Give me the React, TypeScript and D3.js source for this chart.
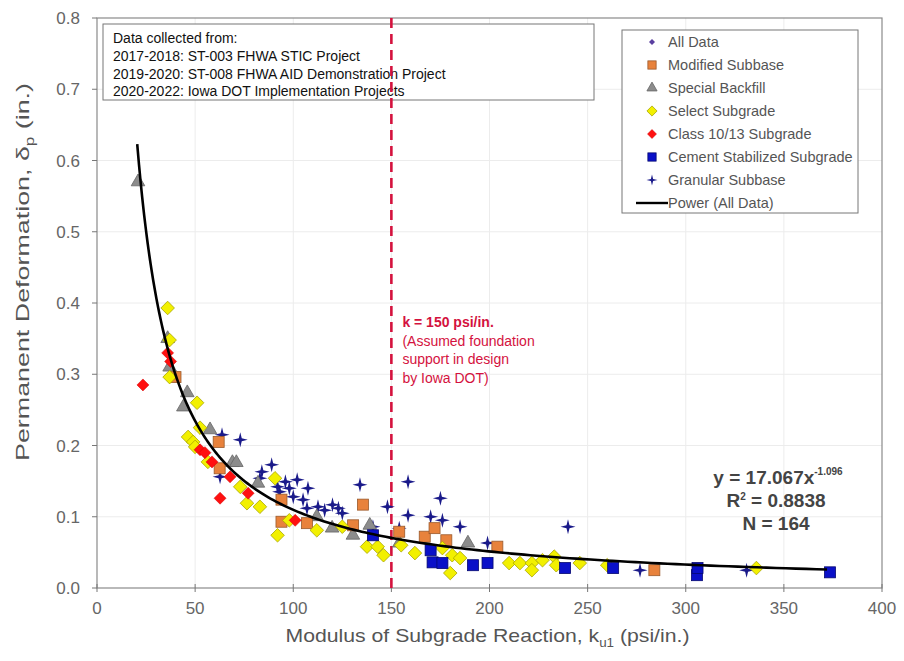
import React from 'react';
import * as d3 from 'd3';

// values: [k (psi/in.), deformation (in.)]
const specialBackfill: [number, number][] = [
  [20.9, 0.57], [36, 0.35], [37, 0.31], [44, 0.254], [46, 0.274], [57.6, 0.222],
  [69, 0.176], [71, 0.176], [82, 0.147], [112, 0.1], [119.8, 0.084], [130.4, 0.074],
  [139, 0.088], [154, 0.063], [189, 0.063],
];
const modifiedSubbase: [number, number][] = [
  [40, 0.296], [62, 0.205], [62.5, 0.168], [94, 0.124], [94, 0.093], [107, 0.091],
  [130.5, 0.088], [135.5, 0.117], [154, 0.079], [167, 0.072], [172, 0.084], [178, 0.067],
  [204, 0.058], [284, 0.025],
];
const selectSubgrade: [number, number][] = [
  [36, 0.393], [37, 0.348], [37, 0.296], [46.4, 0.212], [49, 0.205], [50, 0.198],
  [51, 0.26], [52.5, 0.225], [56.5, 0.177], [73, 0.142], [76.4, 0.119], [83, 0.114],
  [90.7, 0.154], [92, 0.074], [98, 0.095], [112, 0.081], [125, 0.086], [137.6, 0.058],
  [143, 0.058], [146, 0.046], [155, 0.06], [162, 0.049], [176, 0.056], [181, 0.046],
  [185, 0.042], [180, 0.021], [210, 0.035], [215.5, 0.035], [221.6, 0.035], [221.6, 0.025],
  [227, 0.039], [233, 0.044], [234, 0.032], [246, 0.035], [260, 0.032], [336, 0.028],
];
const class1013: [number, number][] = [
  [23.4, 0.285], [36, 0.33], [37.5, 0.318], [52.5, 0.194], [55, 0.19], [58.6, 0.177],
  [62.7, 0.126], [67.8, 0.156], [77, 0.133], [101, 0.095],
];
const cementStabilized: [number, number][] = [
  [140.6, 0.074], [170, 0.053], [171, 0.036], [176, 0.035], [191.6, 0.032], [199, 0.035],
  [238.5, 0.028], [263, 0.028], [305.7, 0.018], [306, 0.028], [373.5, 0.022],
];
const granularSubbase: [number, number][] = [
  [63.7, 0.215], [73, 0.208], [62.7, 0.156], [84, 0.163], [83, 0.154], [89, 0.173],
  [92, 0.142], [96, 0.149], [102, 0.152], [107.5, 0.14], [98, 0.14], [93, 0.135],
  [100, 0.128], [105, 0.124], [107, 0.112], [112.6, 0.114], [120, 0.117], [123, 0.112],
  [116, 0.109], [125, 0.105], [134, 0.145], [148, 0.114], [140.6, 0.086], [158.5, 0.149],
  [158.5, 0.102], [154, 0.084], [170, 0.1], [175, 0.126], [176, 0.095], [185, 0.086],
  [199, 0.063], [240, 0.086], [276.7, 0.025], [331, 0.025],
];

// power fit reported on the chart
const fitCoef = 17.067;
const fitExp = -1.096;
const fitRange: [number, number] = [20.5, 372];

const xTicks = [0, 50, 100, 150, 200, 250, 300, 350, 400];
const yTicks = [0, 0.1, 0.2, 0.3, 0.4, 0.5, 0.6, 0.7, 0.8];
const sourceLines = [
  'Data collected from:',
  '2017-2018: ST-003 FHWA STIC Project',
  '2019-2020: ST-008 FHWA AID Demonstration Project',
  '2020-2022: Iowa DOT Implementation Projects',
];
const kNote = ['(Assumed foundation', 'support in design', 'by Iowa DOT)'];
const legendLabels = [
  'All Data', 'Modified Subbase', 'Special Backfill', 'Select Subgrade',
  'Class 10/13 Subgrade', 'Cement Stabilized Subgrade', 'Granular Subbase', 'Power (All Data)',
];

const FONT = '"Liberation Sans", Arial, sans-serif';
const RED = '#d4123e';

const W = 904, H = 661;
const margin = { top: 18, right: 22, bottom: 73, left: 97 };

const x = d3.scaleLinear().domain([0, 400]).range([margin.left, W - margin.right]);
const y = d3.scaleLinear().domain([0, 0.8]).range([H - margin.bottom, margin.top]);

const starPath = (s: number) => {
  const a = s, b = s * 0.2;
  return `M0,${-a}L${b},${-b}L${a},0L${b},${b}L0,${a}L${-b},${b}L${-a},0L${-b},${-b}Z`;
};
const diamond = (s: number) => `M0,${-s}L${s},0L0,${s}L${-s},0Z`;

type Kind = 'all' | 'mod' | 'spec' | 'sel' | 'cls' | 'cem' | 'gran';

const Marker = ({ kind, cx, cy, legend }: { kind: Kind; cx: number; cy: number; legend?: boolean }) => {
  const t = `translate(${cx},${cy})`;
  const k = legend ? 0.75 : 1;
  switch (kind) {
    case 'all':
      return <path transform={t} d={diamond(3)} fill="#5a3fa0" />;
    case 'mod':
      return <rect x={cx - 5.5 * k} y={cy - 5.5 * k} width={11 * k} height={11 * k} fill="#e8823c" stroke="#9a5a2c" strokeWidth={0.8} />;
    case 'spec':
      return <path transform={t} d={d3.symbol(d3.symbolTriangle, 80 * k * k)()!} fill="#8c8c8c" stroke="#666" strokeWidth={0.8} />;
    case 'sel':
      return <path transform={t} d={diamond(6.8 * k)} fill="#f2f000" stroke="#a8a400" strokeWidth={0.8} />;
    case 'cls':
      return <path transform={t} d={diamond(6 * k)} fill="#ff1010" stroke="#d00000" strokeWidth={0.5} />;
    case 'cem':
      return <rect x={cx - 5.5 * k} y={cy - 5.5 * k} width={11 * k} height={11 * k} fill="#0a10c8" stroke="#050870" strokeWidth={0.8} />;
    case 'gran':
      return <path transform={t} d={starPath(legend ? 5.5 : 7.5)} fill="#1a1a8a" />;
  }
};

const seriesList: { kind: Kind; data: [number, number][] }[] = [
  { kind: 'gran', data: granularSubbase },
  { kind: 'spec', data: specialBackfill },
  { kind: 'mod', data: modifiedSubbase },
  { kind: 'sel', data: selectSubgrade },
  { kind: 'cls', data: class1013 },
  { kind: 'cem', data: cementStabilized },
];

const App = () => {
  const fitPts = d3.range(0, 201).map(i => {
    // log spacing so the steep start stays smooth
    const xv = fitRange[0] * Math.pow(fitRange[1] / fitRange[0], i / 200);
    return [xv, fitCoef * Math.pow(xv, fitExp)] as [number, number];
  });
  const line = d3.line<[number, number]>().x(d => x(d[0])).y(d => y(d[1]));

  const legendKinds: (Kind | 'line')[] = ['all', 'mod', 'spec', 'sel', 'cls', 'cem', 'gran', 'line'];
  const x0 = margin.left, x1 = W - margin.right, yb = H - margin.bottom, yt = margin.top;

  return (
    <>
      <style>{`body{margin:0}`}</style>
      <svg width={W} height={H} style={{ display: 'block', background: '#fff' }} fontFamily={FONT}>
        {/* grid */}
        {xTicks.slice(1, -1).map(t => (
          <line key={'gx' + t} x1={x(t)} x2={x(t)} y1={yt} y2={yb} stroke="#ececec" />
        ))}
        {yTicks.slice(1, -1).map(t => (
          <line key={'gy' + t} x1={x0} x2={x1} y1={y(t)} y2={y(t)} stroke="#ececec" />
        ))}

        {/* frame + ticks */}
        <rect x={x0} y={yt} width={x1 - x0} height={yb - yt} fill="none" stroke="#8a8a8a" strokeWidth={1.2} />
        {xTicks.map(t => (
          <line key={'tx' + t} x1={x(t)} x2={x(t)} y1={yb - 4} y2={yb + 4} stroke="#777" />
        ))}
        {yTicks.map(t => (
          <line key={'ty' + t} x1={x0 - 5} x2={x0} y1={y(t)} y2={y(t)} stroke="#777" />
        ))}
        {xTicks.map(t => (
          <text key={'lx' + t} x={x(t)} y={yb + 26} textAnchor="middle" fontSize={17} fill="#666">{t}</text>
        ))}
        {yTicks.map(t => (
          <text key={'ly' + t} x={x0 - 17} y={y(t) + 6} textAnchor="end" fontSize={17} fill="#666">{t.toFixed(1)}</text>
        ))}

        {/* axis titles */}
        <text x={(x0 + x1) / 2 - 2} y={H - 19} textAnchor="middle" fontSize={19} fill="#555"
          textLength={404} lengthAdjust="spacingAndGlyphs">
          Modulus of Subgrade Reaction, k<tspan fontSize={12} dy={5}>u1</tspan><tspan dy={-5}> (psi/in.)</tspan>
        </text>
        <text transform={`translate(29,272) rotate(-90)`} textAnchor="middle" fontSize={19} fill="#555"
          textLength={378} lengthAdjust="spacingAndGlyphs">
          Permanent Deformation, δ<tspan fontSize={12} dy={5}>p</tspan><tspan dy={-5}> (in.)</tspan>
        </text>

        {/* source box */}
        <rect x={103} y={24} width={491} height={76} fill="#fff" stroke="#777" />
        {sourceLines.map((s, i) => (
          <text key={s} x={113} y={43 + i * 17.8} fontSize={14} fill="#111">{s}</text>
        ))}

        {/* design k line */}
        <line x1={x(150)} x2={x(150)} y1={yt} y2={yb} stroke={RED} strokeWidth={2.6} strokeDasharray="10,6" />
        <text x={x(150) + 11} y={327} fontSize={14} fill={RED} fontWeight="bold">k = 150 psi/in.</text>
        {kNote.map((s, i) => (
          <text key={s} x={x(150) + 11} y={346 + i * 18.3} fontSize={14} fill={RED}>{s}</text>
        ))}

        {/* points */}
        {seriesList.map(s =>
          s.data.map((d, i) => <Marker key={s.kind + i} kind={s.kind} cx={x(d[0])} cy={y(d[1])} />)
        )}

        {/* fit */}
        <path d={line(fitPts)!} fill="none" stroke="#000" strokeWidth={2.6} />

        {/* fit annotation */}
        <text x={778} y={484} textAnchor="middle" fontSize={19} fill="#444" fontWeight="bold">
          y = 17.067x<tspan fontSize={10} dy={-9}>-1.096</tspan>
        </text>
        <text x={776} y={507} textAnchor="middle" fontSize={19} fill="#444" fontWeight="bold">
          R<tspan fontSize={10} dy={-7}>2</tspan><tspan dy={7}> = 0.8838</tspan>
        </text>
        <text x={776} y={530} textAnchor="middle" fontSize={19} fill="#444" fontWeight="bold">N = 164</text>

        {/* legend */}
        <rect x={622} y={30} width={236} height={183} fill="#fff" stroke="#777" />
        {legendKinds.map((k, i) => {
          const ly = 42 + i * 23;
          return (
            <g key={'lg' + i}>
              {k === 'line'
                ? <line x1={636} x2={668} y1={ly} y2={ly} stroke="#000" strokeWidth={2.4} />
                : <Marker kind={k} cx={652} cy={ly} legend />}
              <text x={668} y={ly + 5} fontSize={14.5} fill="#555">{legendLabels[i]}</text>
            </g>
          );
        })}
      </svg>
    </>
  );
};

export default App;
